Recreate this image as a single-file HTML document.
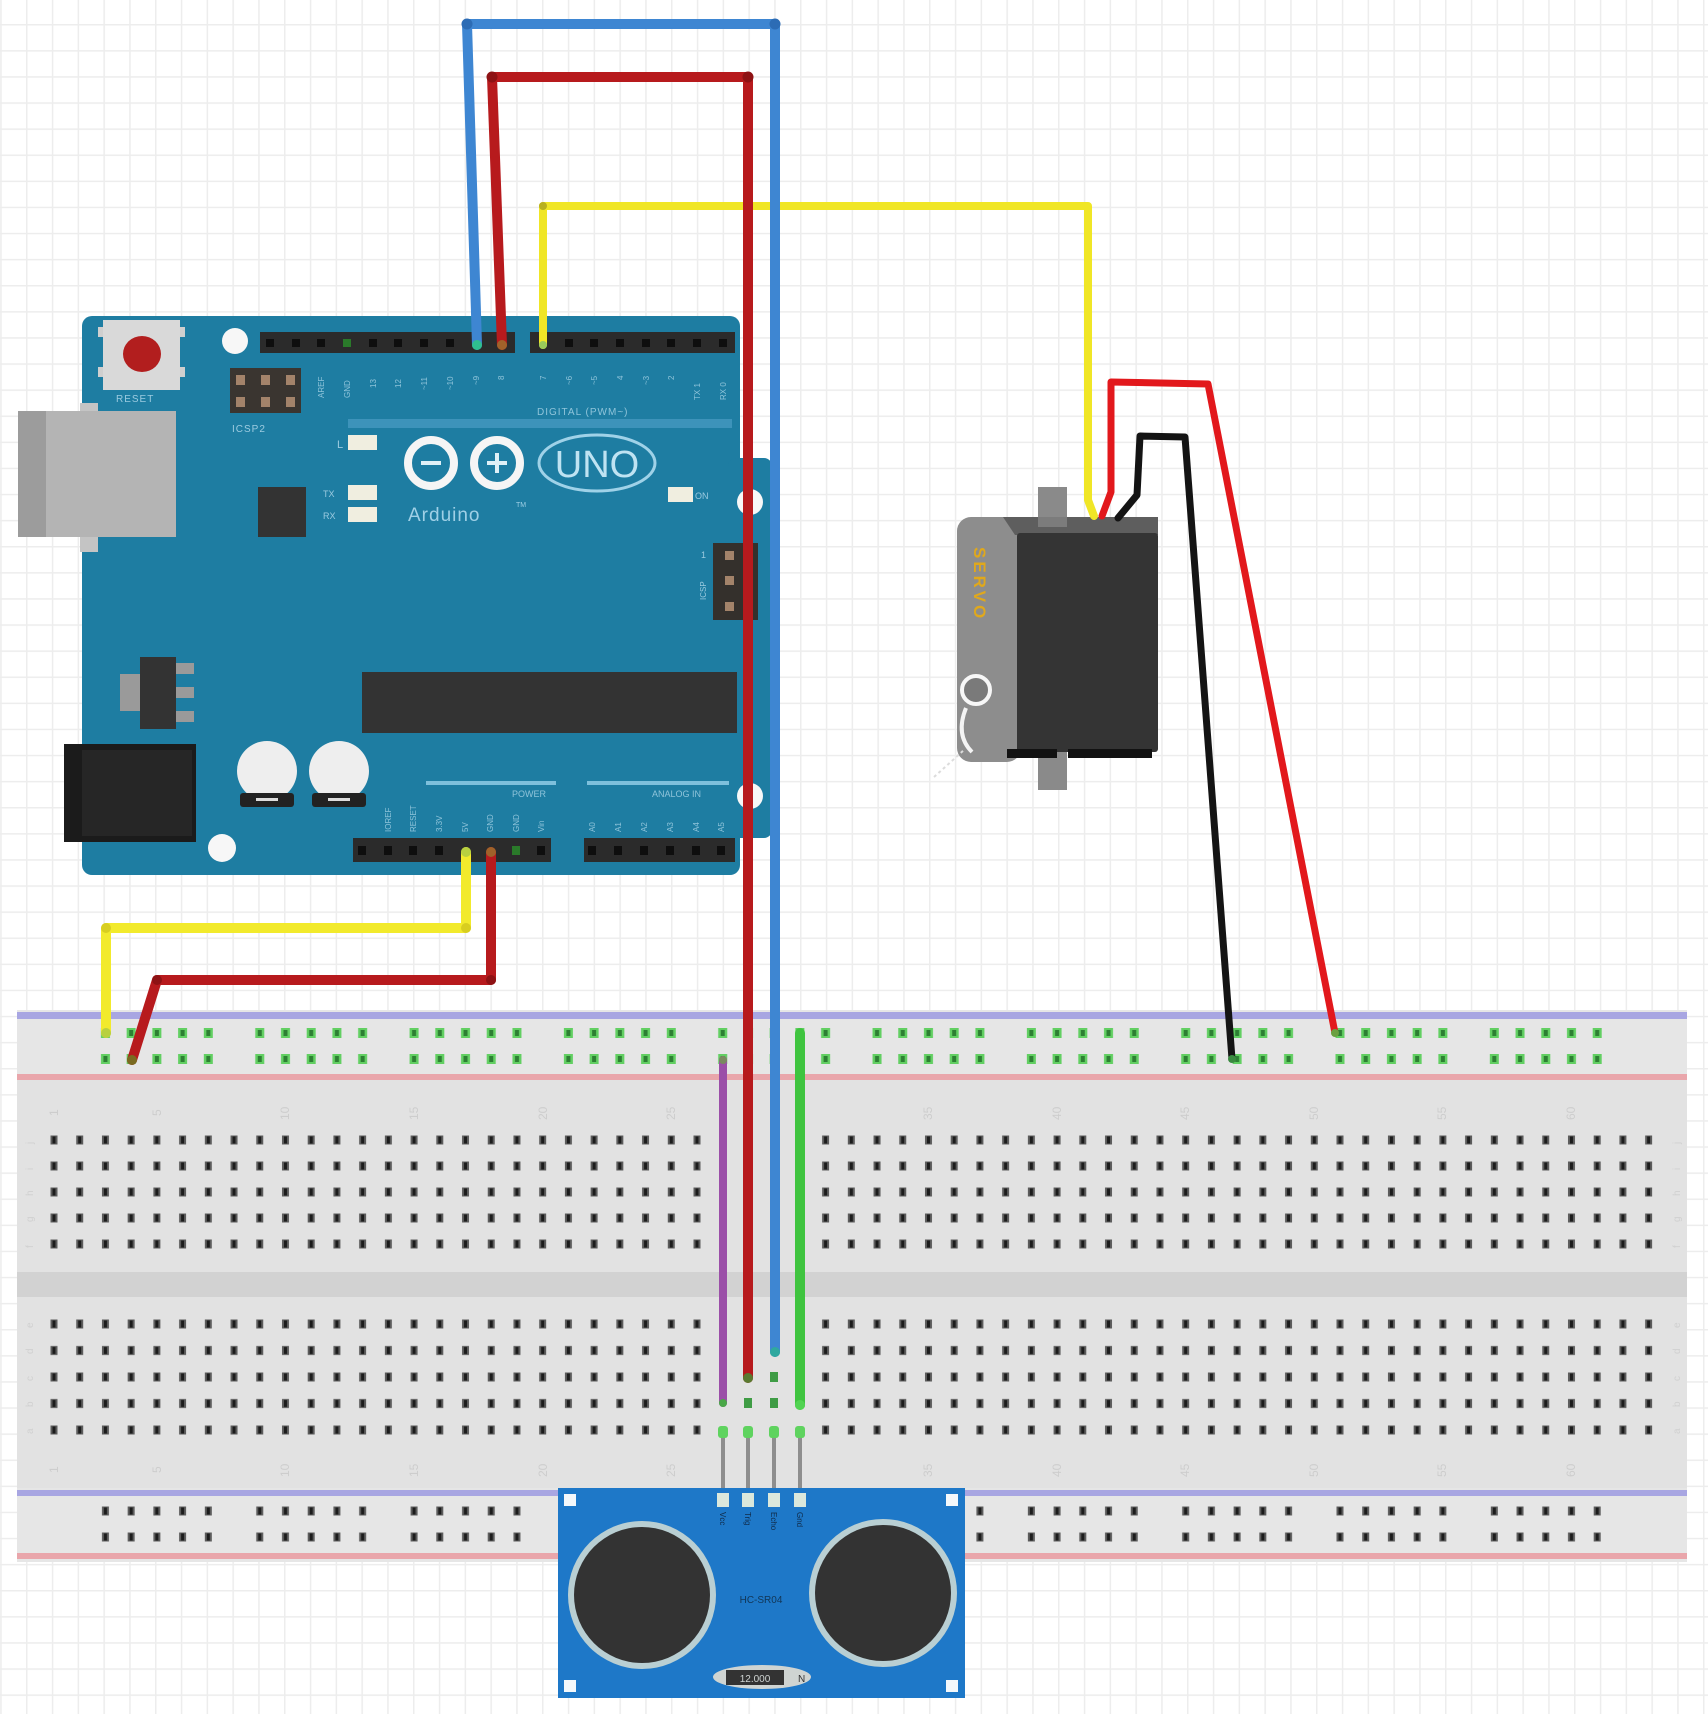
<!DOCTYPE html>
<html>
<head>
<meta charset="utf-8">
<style>
  html,body{margin:0;padding:0;background:#fff;}
  svg{display:block;}
  text{font-family:"Liberation Sans",sans-serif;}
</style>
</head>
<body>
<svg width="1708" height="1714" viewBox="0 0 1708 1714" xmlns="http://www.w3.org/2000/svg">
<defs>
  <pattern id="grid" patternUnits="userSpaceOnUse" x="0.2" y="-2.1" width="25.8" height="26.1">
    <rect width="25.8" height="26.1" fill="#ffffff"/>
    <rect x="0" y="0" width="1.5" height="26.1" fill="#ededed"/>
    <rect x="0" y="0" width="25.8" height="1.5" fill="#ededed"/>
  </pattern>
  <pattern id="mhT" patternUnits="userSpaceOnUse" x="41.14" y="1127" width="25.72" height="26">
    <rect x="9.36" y="8.5" width="7" height="9" fill="#5c5c5c"/>
    <rect x="11.36" y="9.5" width="3" height="7" fill="#1c1c1c"/>
  </pattern>
  <pattern id="mhB" patternUnits="userSpaceOnUse" x="41.14" y="1310.75" width="25.72" height="26.5">
    <rect x="9.36" y="8.75" width="7" height="9" fill="#5c5c5c"/>
    <rect x="11.36" y="9.75" width="3" height="7" fill="#1c1c1c"/>
  </pattern>
  <pattern id="rhG" patternUnits="userSpaceOnUse" x="92.58" y="1020" width="154.32" height="26">
    <rect x="8.36" y="8" width="9" height="10" fill="#62cf62"/><rect x="10.86" y="10" width="4" height="6" fill="#2d7f33"/>
    <rect x="34.08" y="8" width="9" height="10" fill="#62cf62"/><rect x="36.58" y="10" width="4" height="6" fill="#2d7f33"/>
    <rect x="59.8" y="8" width="9" height="10" fill="#62cf62"/><rect x="62.3" y="10" width="4" height="6" fill="#2d7f33"/>
    <rect x="85.52" y="8" width="9" height="10" fill="#62cf62"/><rect x="88.02" y="10" width="4" height="6" fill="#2d7f33"/>
    <rect x="111.24" y="8" width="9" height="10" fill="#62cf62"/><rect x="113.74" y="10" width="4" height="6" fill="#2d7f33"/>
  </pattern>
  <pattern id="rhD" patternUnits="userSpaceOnUse" x="92.58" y="1498" width="154.32" height="26">
    <rect x="9.36" y="8.5" width="7" height="9" fill="#5c5c5c"/><rect x="11.36" y="9.5" width="3" height="7" fill="#1c1c1c"/>
    <rect x="35.08" y="8.5" width="7" height="9" fill="#5c5c5c"/><rect x="37.08" y="9.5" width="3" height="7" fill="#1c1c1c"/>
    <rect x="60.8" y="8.5" width="7" height="9" fill="#5c5c5c"/><rect x="62.8" y="9.5" width="3" height="7" fill="#1c1c1c"/>
    <rect x="86.52" y="8.5" width="7" height="9" fill="#5c5c5c"/><rect x="88.52" y="9.5" width="3" height="7" fill="#1c1c1c"/>
    <rect x="112.24" y="8.5" width="7" height="9" fill="#5c5c5c"/><rect x="114.24" y="9.5" width="3" height="7" fill="#1c1c1c"/>
  </pattern>
</defs>

<!-- background grid -->
<rect x="0" y="0" width="1708" height="1714" fill="url(#grid)"/>

<!-- ================= ARDUINO ================= -->
<g>
  <!-- board -->
  <rect x="82" y="316" width="658" height="559" rx="10" fill="#1e7da2"/>
  <rect x="728" y="458" width="44" height="380" rx="8" fill="#1e7da2"/>
  <!-- USB -->
  <rect x="18" y="411" width="158" height="126" fill="#b4b4b4"/>
  <rect x="18" y="411" width="28" height="126" fill="#9c9c9c"/>
  <rect x="80" y="403" width="18" height="8" fill="#c4c4c4"/>
  <rect x="80" y="537" width="18" height="15" fill="#c4c4c4"/>

  <!-- mounting holes -->
  <circle cx="235" cy="341" r="13" fill="#f7f7f7"/>
  <circle cx="222" cy="848" r="14" fill="#f7f7f7"/>
  <circle cx="750" cy="502" r="13" fill="#f7f7f7"/>
  <circle cx="750" cy="796" r="13" fill="#f7f7f7"/>

  <!-- reset button -->
  <rect x="98" y="327" width="6" height="10" fill="#cfcfcf"/>
  <rect x="98" y="367" width="6" height="10" fill="#cfcfcf"/>
  <rect x="179" y="327" width="6" height="10" fill="#cfcfcf"/>
  <rect x="179" y="367" width="6" height="10" fill="#cfcfcf"/>
  <rect x="103" y="320" width="77" height="70" fill="#d9d9d9"/>
  <ellipse cx="142" cy="354" rx="19" ry="18" fill="#b21e1e"/>
  <text x="116" y="402" font-size="10" fill="#9ccbe0" letter-spacing="1">RESET</text>

  <!-- ICSP2 -->
  <rect x="230" y="368" width="71" height="45" fill="#3a3530"/>
  <rect x="236" y="375" width="9" height="10" fill="#a3836a"/>
  <rect x="261" y="375" width="9" height="10" fill="#a3836a"/>
  <rect x="286" y="375" width="9" height="10" fill="#a3836a"/>
  <rect x="236" y="397" width="9" height="10" fill="#a3836a"/>
  <rect x="261" y="397" width="9" height="10" fill="#a3836a"/>
  <rect x="286" y="397" width="9" height="10" fill="#a3836a"/>
  <text x="232" y="432" font-size="10" fill="#9ccbe0" letter-spacing="1">ICSP2</text>

  <!-- top headers -->
  <rect x="260" y="332" width="255" height="21" fill="#2b2b2b"/>
  <rect x="530" y="332" width="205" height="21" fill="#2b2b2b"/>
  <g fill="#0e0e0e">
    <rect x="266" y="339" width="8" height="8"/>
    <rect x="292" y="339" width="8" height="8"/>
    <rect x="317" y="339" width="8" height="8"/>
    <rect x="343" y="339" width="8" height="8" fill="#2a7a2a"/>
    <rect x="369" y="339" width="8" height="8"/>
    <rect x="394" y="339" width="8" height="8"/>
    <rect x="420" y="339" width="8" height="8"/>
    <rect x="446" y="339" width="8" height="8"/>
    <rect x="565" y="339" width="8" height="8"/>
    <rect x="590" y="339" width="8" height="8"/>
    <rect x="616" y="339" width="8" height="8"/>
    <rect x="642" y="339" width="8" height="8"/>
    <rect x="667" y="339" width="8" height="8"/>
    <rect x="693" y="339" width="8" height="8"/>
    <rect x="719" y="339" width="8" height="8"/>
  </g>
  <!-- top pin labels -->
  <g font-size="8" fill="#8fc4da">
    <text transform="translate(324,398) rotate(-90)">AREF</text>
    <text transform="translate(350,398) rotate(-90)">GND</text>
    <text transform="translate(376,388) rotate(-90)">13</text>
    <text transform="translate(401,388) rotate(-90)">12</text>
    <text transform="translate(427,390) rotate(-90)">~11</text>
    <text transform="translate(453,390) rotate(-90)">~10</text>
    <text transform="translate(479,385) rotate(-90)">~9</text>
    <text transform="translate(504,380) rotate(-90)">8</text>
    <text transform="translate(546,380) rotate(-90)">7</text>
    <text transform="translate(572,385) rotate(-90)">~6</text>
    <text transform="translate(597,385) rotate(-90)">~5</text>
    <text transform="translate(623,380) rotate(-90)">4</text>
    <text transform="translate(649,385) rotate(-90)">~3</text>
    <text transform="translate(674,380) rotate(-90)">2</text>
    <text transform="translate(700,400) rotate(-90)">TX 1</text>
    <text transform="translate(726,400) rotate(-90)">RX 0</text>
  </g>
  <text x="537" y="415" font-size="10" fill="#8fc4da" letter-spacing="1">DIGITAL (PWM~)</text>
  <rect x="348" y="419" width="384" height="9" fill="#3d93ba"/>

  <!-- LEDs -->
  <rect x="348" y="435" width="29" height="15" fill="#f0eee0"/>
  <rect x="348" y="485" width="29" height="15" fill="#f0eee0"/>
  <rect x="348" y="507" width="29" height="15" fill="#f0eee0"/>
  <text x="337" y="448" font-size="11" fill="#9ccbe0">L</text>
  <text x="323" y="497" font-size="9" fill="#9ccbe0">TX</text>
  <text x="323" y="519" font-size="9" fill="#9ccbe0">RX</text>
  <rect x="668" y="487" width="25" height="15" fill="#f0eee0"/>
  <text x="695" y="499" font-size="9" fill="#9ccbe0">ON</text>

  <!-- small chip -->
  <rect x="258" y="487" width="48" height="50" fill="#333"/>

  <!-- Arduino logo -->
  <circle cx="431" cy="463" r="23" fill="none" stroke="#f5f5f5" stroke-width="8"/>
  <circle cx="497" cy="463" r="23" fill="none" stroke="#f5f5f5" stroke-width="8"/>
  <rect x="421" y="461" width="20" height="4" fill="#dff0f7"/>
  <rect x="487" y="461" width="20" height="4" fill="#dff0f7"/>
  <rect x="495" y="453" width="4" height="20" fill="#dff0f7"/>
  <ellipse cx="597" cy="463" rx="58" ry="28" fill="none" stroke="#9fd2e8" stroke-width="3"/>
  <text x="597" y="477" font-size="38" fill="#bfe3f2" text-anchor="middle">UNO</text>
  <text x="408" y="521" font-size="19" fill="#9fd0e6" letter-spacing="1">Arduino</text>
  <text x="516" y="507" font-size="7" fill="#9fd0e6">TM</text>

  <!-- right ICSP -->
  <rect x="713" y="543" width="45" height="77" fill="#34302c"/>
  <rect x="725" y="551" width="9" height="9" fill="#a3836a"/>
  <rect x="725" y="576" width="9" height="9" fill="#a3836a"/>
  <rect x="725" y="602" width="9" height="9" fill="#a3836a"/>
  <text transform="translate(706,600) rotate(-90)" font-size="8" fill="#9ccbe0">ICSP</text>
  <text x="701" y="558" font-size="9" fill="#9ccbe0">1</text>

  <!-- regulator -->
  <rect x="120" y="674" width="22" height="37" fill="#9a9a9a"/>
  <rect x="140" y="657" width="36" height="72" fill="#333"/>
  <rect x="176" y="663" width="18" height="11" fill="#9a9a9a"/>
  <rect x="176" y="687" width="18" height="11" fill="#9a9a9a"/>
  <rect x="176" y="711" width="18" height="11" fill="#9a9a9a"/>

  <!-- main chip -->
  <rect x="362" y="672" width="375" height="61" fill="#333"/>

  <!-- DC jack -->
  <rect x="64" y="744" width="132" height="98" fill="#1b1b1b"/>
  <rect x="82" y="750" width="110" height="86" fill="#262626"/>

  <!-- capacitors -->
  <circle cx="267" cy="771" r="30" fill="#eeeeee"/>
  <rect x="240" y="793" width="54" height="14" rx="3" fill="#222"/>
  <rect x="256" y="798" width="22" height="3" fill="#ddd"/>
  <circle cx="339" cy="771" r="30" fill="#eeeeee"/>
  <rect x="312" y="793" width="54" height="14" rx="3" fill="#222"/>
  <rect x="328" y="798" width="22" height="3" fill="#ddd"/>

  <!-- bottom silkscreen lines -->
  <rect x="426" y="781" width="130" height="4" fill="#7ec0dc"/>
  <rect x="587" y="781" width="142" height="4" fill="#7ec0dc"/>
  <text x="512" y="797" font-size="9" fill="#8fc4da">POWER</text>
  <text x="652" y="797" font-size="9" fill="#8fc4da">ANALOG IN</text>
  <g font-size="8" fill="#8fc4da">
    <text transform="translate(391,832) rotate(-90)">IOREF</text>
    <text transform="translate(416,832) rotate(-90)">RESET</text>
    <text transform="translate(442,832) rotate(-90)">3.3V</text>
    <text transform="translate(468,832) rotate(-90)">5V</text>
    <text transform="translate(493,832) rotate(-90)">GND</text>
    <text transform="translate(519,832) rotate(-90)">GND</text>
    <text transform="translate(544,832) rotate(-90)">Vin</text>
    <text transform="translate(595,832) rotate(-90)">A0</text>
    <text transform="translate(621,832) rotate(-90)">A1</text>
    <text transform="translate(647,832) rotate(-90)">A2</text>
    <text transform="translate(673,832) rotate(-90)">A3</text>
    <text transform="translate(699,832) rotate(-90)">A4</text>
    <text transform="translate(724,832) rotate(-90)">A5</text>
  </g>
  <!-- bottom headers -->
  <rect x="353" y="838" width="198" height="24" fill="#2b2b2b"/>
  <rect x="584" y="838" width="151" height="24" fill="#2b2b2b"/>
  <g fill="#0e0e0e">
    <rect x="358" y="846" width="8" height="9"/>
    <rect x="384" y="846" width="8" height="9"/>
    <rect x="409" y="846" width="8" height="9"/>
    <rect x="435" y="846" width="8" height="9"/>
    <rect x="512" y="846" width="8" height="9" fill="#2a7a2a"/>
    <rect x="537" y="846" width="8" height="9"/>
    <rect x="588" y="846" width="8" height="9"/>
    <rect x="614" y="846" width="8" height="9"/>
    <rect x="640" y="846" width="8" height="9"/>
    <rect x="666" y="846" width="8" height="9"/>
    <rect x="692" y="846" width="8" height="9"/>
    <rect x="717" y="846" width="8" height="9"/>
  </g>
</g>

<!-- ================= BREADBOARD ================= -->
<g>
  <rect x="17" y="1010" width="1670" height="552" fill="#e2e2e2"/>
  <rect x="17" y="1010" width="1670" height="70" fill="#e6e6e6"/>
  <rect x="17" y="1488" width="1670" height="74" fill="#e6e6e6"/>
  <rect x="17" y="1012" width="1670" height="7" fill="#a8a6e2"/>
  <rect x="17" y="1074" width="1670" height="6" fill="#e9a6ab"/>
  <rect x="17" y="1272" width="1670" height="25" fill="#d2d2d2"/>
  <rect x="17" y="1490" width="1670" height="6" fill="#a8a6e2"/>
  <rect x="17" y="1553" width="1670" height="6" fill="#e9a6ab"/>

  <!-- rails -->
  <rect x="92.58" y="1020" width="1543.2" height="52" fill="url(#rhG)"/>
  <rect x="92.58" y="1498" width="1543.2" height="52" fill="url(#rhD)"/>

  <!-- main holes -->
  <rect x="41.14" y="1127" width="668.72" height="130" fill="url(#mhT)"/>
  <rect x="812.74" y="1127" width="848.76" height="130" fill="url(#mhT)"/>
  <rect x="41.14" y="1310.75" width="668.72" height="132.5" fill="url(#mhB)"/>
  <rect x="812.74" y="1310.75" width="848.76" height="132.5" fill="url(#mhB)"/>

  <!-- faint column numbers -->
  <g font-size="12" fill="#cdcdcd">
    <text transform="translate(58,1116) rotate(-90)">1</text>
    <text transform="translate(161,1116) rotate(-90)">5</text>
    <text transform="translate(289,1120) rotate(-90)">10</text>
    <text transform="translate(418,1120) rotate(-90)">15</text>
    <text transform="translate(547,1120) rotate(-90)">20</text>
    <text transform="translate(675,1120) rotate(-90)">25</text>
    <text transform="translate(932,1120) rotate(-90)">35</text>
    <text transform="translate(1061,1120) rotate(-90)">40</text>
    <text transform="translate(1189,1120) rotate(-90)">45</text>
    <text transform="translate(1318,1120) rotate(-90)">50</text>
    <text transform="translate(1446,1120) rotate(-90)">55</text>
    <text transform="translate(1575,1120) rotate(-90)">60</text>
    <text transform="translate(58,1473) rotate(-90)">1</text>
    <text transform="translate(161,1473) rotate(-90)">5</text>
    <text transform="translate(289,1477) rotate(-90)">10</text>
    <text transform="translate(418,1477) rotate(-90)">15</text>
    <text transform="translate(547,1477) rotate(-90)">20</text>
    <text transform="translate(675,1477) rotate(-90)">25</text>
    <text transform="translate(932,1477) rotate(-90)">35</text>
    <text transform="translate(1061,1477) rotate(-90)">40</text>
    <text transform="translate(1189,1477) rotate(-90)">45</text>
    <text transform="translate(1318,1477) rotate(-90)">50</text>
    <text transform="translate(1446,1477) rotate(-90)">55</text>
    <text transform="translate(1575,1477) rotate(-90)">60</text>
  </g>
  <g font-size="10" fill="#d0d0d0">
    <text transform="translate(33,1144) rotate(-90)">j</text>
    <text transform="translate(33,1170) rotate(-90)">i</text>
    <text transform="translate(33,1196) rotate(-90)">h</text>
    <text transform="translate(33,1222) rotate(-90)">g</text>
    <text transform="translate(33,1248) rotate(-90)">f</text>
    <text transform="translate(33,1328) rotate(-90)">e</text>
    <text transform="translate(33,1354) rotate(-90)">d</text>
    <text transform="translate(33,1381) rotate(-90)">c</text>
    <text transform="translate(33,1407) rotate(-90)">b</text>
    <text transform="translate(33,1434) rotate(-90)">a</text>
    <text transform="translate(1680,1144) rotate(-90)">j</text>
    <text transform="translate(1680,1170) rotate(-90)">i</text>
    <text transform="translate(1680,1196) rotate(-90)">h</text>
    <text transform="translate(1680,1222) rotate(-90)">g</text>
    <text transform="translate(1680,1248) rotate(-90)">f</text>
    <text transform="translate(1680,1328) rotate(-90)">e</text>
    <text transform="translate(1680,1354) rotate(-90)">d</text>
    <text transform="translate(1680,1381) rotate(-90)">c</text>
    <text transform="translate(1680,1407) rotate(-90)">b</text>
    <text transform="translate(1680,1434) rotate(-90)">a</text>
  </g>

  <!-- connected holes (green) under sensor columns -->
  <g fill="#3f9c45">
    <rect x="770" y="1372" width="8" height="10"/>
    <rect x="744" y="1398" width="8" height="10"/>
    <rect x="770" y="1398" width="8" height="10"/>
  </g>
</g>

<!-- ================= ULTRASONIC SENSOR ================= -->
<g>
  <!-- legs -->
  <g stroke="#8e8e8e" stroke-width="4">
    <line x1="723" y1="1432" x2="723" y2="1494"/>
    <line x1="748" y1="1432" x2="748" y2="1494"/>
    <line x1="774" y1="1432" x2="774" y2="1494"/>
    <line x1="800" y1="1432" x2="800" y2="1494"/>
  </g>
  <g fill="#5fd35f">
    <rect x="718" y="1426" width="10" height="12" rx="3"/>
    <rect x="743" y="1426" width="10" height="12" rx="3"/>
    <rect x="769" y="1426" width="10" height="12" rx="3"/>
    <rect x="795" y="1426" width="10" height="12" rx="3"/>
  </g>
  <rect x="558" y="1488" width="407" height="210" fill="#1e78c8"/>
  <rect x="564" y="1494" width="12" height="12" fill="#f4f8fb"/>
  <rect x="946" y="1494" width="12" height="12" fill="#f4f8fb"/>
  <rect x="564" y="1680" width="12" height="12" fill="#f4f8fb"/>
  <rect x="946" y="1680" width="12" height="12" fill="#f4f8fb"/>
  <circle cx="642" cy="1595" r="74" fill="#b9cfd3"/>
  <circle cx="642" cy="1595" r="68" fill="#333"/>
  <circle cx="883" cy="1593" r="74" fill="#b9cfd3"/>
  <circle cx="883" cy="1593" r="68" fill="#333"/>
  <g fill="#dbe8dc">
    <rect x="717" y="1493" width="12" height="14"/>
    <rect x="742" y="1493" width="12" height="14"/>
    <rect x="768" y="1493" width="12" height="14"/>
    <rect x="794" y="1493" width="12" height="14"/>
  </g>
  <g font-size="8" fill="#102a48">
    <text transform="translate(720,1512) rotate(90)">Vcc</text>
    <text transform="translate(745,1512) rotate(90)">Trig</text>
    <text transform="translate(771,1512) rotate(90)">Echo</text>
    <text transform="translate(797,1512) rotate(90)">Gnd</text>
  </g>
  <text x="761" y="1603" font-size="10" fill="#123656" text-anchor="middle">HC-SR04</text>
  <ellipse cx="762" cy="1677" rx="49" ry="12" fill="#cfd4d2"/>
  <rect x="726" y="1670" width="58" height="15" fill="#333"/>
  <text x="755" y="1682" font-size="10" fill="#cfd4d2" text-anchor="middle">12.000</text>
  <text x="798" y="1682" font-size="10" fill="#333">N</text>
</g>

<!-- ================= SERVO ================= -->
<g>
  <rect x="1038" y="746" width="29" height="44" fill="#8a8a8a"/>
  <rect x="1038" y="487" width="29" height="42" fill="#8a8a8a"/>
  <rect x="957" y="517" width="64" height="245" rx="14" fill="#8d8d8d"/>
  <polygon points="1003,517 1158,517 1158,535 1015,535" fill="#5e5e5e"/>
  <rect x="1038" y="517" width="29" height="10" fill="#7c7c7c"/>
  <rect x="1017" y="533" width="141" height="219" rx="3" fill="#343434"/>
  <rect x="1007" y="749" width="50" height="9" fill="#121212"/>
  <rect x="1068" y="749" width="84" height="9" fill="#121212"/>
  <text transform="translate(974,547) rotate(90)" font-size="17" font-weight="bold" fill="#e0a81c" letter-spacing="3">SERVO</text>
  <path d="M966,708 Q955,735 972,752" fill="none" stroke="#f4f4f4" stroke-width="4"/>
  <circle cx="976" cy="690" r="14" fill="#7a7a7a" stroke="#f7f7f7" stroke-width="4"/>
  <line x1="934" y1="777" x2="964" y2="750" stroke="#dcdcdc" stroke-width="2" stroke-dasharray="3 3"/>
</g>

<!-- ================= WIRES ================= -->
<g fill="none" stroke-linecap="round" stroke-linejoin="round">
  <polyline points="543,345 543,206 1088,206 1088,500 1094,516" stroke="#f0e626" stroke-width="8"/>
  <polyline points="502,345 492,77 748,77 748,1378" stroke="#b71a1d" stroke-width="10"/>
  <polyline points="477,345 467,24 775,24 775,1352" stroke="#3e86d2" stroke-width="10"/>
  <polyline points="466,852 466,928 106,928 106,1033" stroke="#f2ea2c" stroke-width="10"/>
  <polyline points="491,852 491,980 157,980 132,1060" stroke="#b71a1d" stroke-width="10"/>
  <polyline points="723,1060 723,1403" stroke="#9b4fa8" stroke-width="8"/>
  <polyline points="800,1033 800,1405" stroke="#3fc43f" stroke-width="10"/>
  <polyline points="1102,516 1111,492 1111,382 1208,384 1335,1033" stroke="#e2181c" stroke-width="7"/>
  <polyline points="1118,518 1137,495 1140,436 1185,437 1232,1059" stroke="#141414" stroke-width="7"/>
</g>
<!-- bend & end dots -->
<g>
  <circle cx="467" cy="24" r="5.5" fill="#2c6cb5"/>
  <circle cx="775" cy="24" r="5.5" fill="#2c6cb5"/>
  <circle cx="492" cy="77" r="5.5" fill="#8e1214"/>
  <circle cx="748" cy="77" r="5.5" fill="#8e1214"/>
  <circle cx="543" cy="206" r="4" fill="#b8b020"/>
  <circle cx="477" cy="345" r="5" fill="#2fbf8f"/>
  <circle cx="502" cy="345" r="5" fill="#a0622a"/>
  <circle cx="543" cy="345" r="4" fill="#9acb5a"/>
  <circle cx="466" cy="852" r="5" fill="#b8d040"/>
  <circle cx="491" cy="852" r="5" fill="#a0622a"/>
  <circle cx="157" cy="980" r="5" fill="#8e1214"/>
  <circle cx="106" cy="928" r="5" fill="#d8ce20"/>
  <circle cx="466" cy="928" r="5" fill="#d8ce20"/>
  <circle cx="491" cy="980" r="5" fill="#8e1214"/>
  <circle cx="106" cy="1033" r="5" fill="#b8d040"/>
  <circle cx="132" cy="1060" r="5" fill="#7a6a20"/>
  <circle cx="723" cy="1060" r="4" fill="#7a8a60"/>
  <circle cx="723" cy="1403" r="4" fill="#4aa848"/>
  <circle cx="748" cy="1378" r="5" fill="#5a7a30"/>
  <circle cx="775" cy="1352" r="5" fill="#2fa89f"/>
  <circle cx="800" cy="1405" r="5" fill="#52d352"/>
  <circle cx="1335" cy="1033" r="4" fill="#6aa040"/>
  <circle cx="1232" cy="1059" r="4" fill="#3a8a40"/>
</g>
</svg>
</body>
</html>
